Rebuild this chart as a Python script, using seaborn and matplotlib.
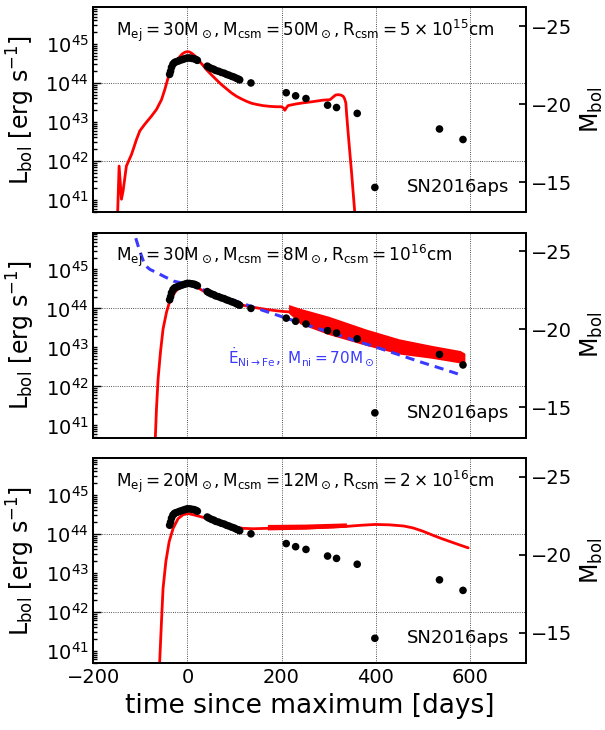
import numpy as np
import pandas as pd
import seaborn as sns
import matplotlib.pyplot as plt
from matplotlib.ticker import LogLocator, FuncFormatter, LogFormatterSciNotation

# SN2016aps bolometric light curve (days since max, log10 L)
obs_days = [-38, -36, -34, -31, -28, -25, -20, -16, -11, -6, -1, 4, 9, 14, 18, 21,
            42, 46, 51, 56, 60, 66, 72, 78, 83, 88, 94, 99, 104, 108, 111, 135,
            210, 230, 252, 298, 317, 361, 536, 586]
obs_logL = [44.22, 44.30, 44.40, 44.48, 44.52, 44.54, 44.56, 44.58, 44.60, 44.62, 44.64,
            44.64, 44.63, 44.62, 44.60, 44.58, 44.43, 44.40, 44.37, 44.35, 44.32, 44.30,
            44.27, 44.25, 44.22, 44.20, 44.17, 44.15, 44.12, 44.10, 44.08, 44.00,
            43.75, 43.67, 43.60, 43.43, 43.37, 43.22, 42.82, 42.55]

# model 1: Mej=30, Mcsm=50, Rcsm=5e15
m1_days = [-149, -145.5, -140.5, -137, -130, -119, -108.5, -101.5, -91, -76.6, -66, -55.3,
           -48.3, -41.3, -32, -22, -10.6, -5, -2, 2, 5, 9, 13.4, 19, 26, 33, 40.4, 50,
           61.7, 72, 83, 93, 104, 115, 125.5, 136, 146.8, 160, 175, 190, 200, 204, 207,
           210, 214, 230, 246, 266, 288.5, 302.8, 306, 309.8, 315, 320.4, 326, 331, 334,
           336.8, 338.5, 341.7, 349, 357]
m1_logL = [40.5, 41.87, 41.02, 41.23, 41.87, 42.17, 42.55, 42.77, 42.94, 43.15, 43.32, 43.57,
           43.83, 44.13, 44.42, 44.60, 44.75, 44.79, 44.80, 44.80, 44.79, 44.76, 44.72,
           44.65, 44.55, 44.45, 44.34, 44.22, 44.08, 43.96, 43.85, 43.75, 43.66, 43.59,
           43.53, 43.48, 43.45, 43.42, 43.40, 43.39, 43.39, 43.36, 43.30, 43.36, 43.42,
           43.46, 43.49, 43.52, 43.56, 43.57, 43.60, 43.64, 43.69, 43.70, 43.69, 43.66,
           43.60, 43.49, 43.20, 42.72, 41.70, 40.5]

# model 2: Mej=30, Mcsm=8, Rcsm=1e16
m2_days = [-69, -66, -62.5, -57.5, -52, -44.7, -37.7, -27, -16.4, -8, -2, 5, 12, 22, 33,
           47, 61.7, 75, 90, 104, 118, 135, 153.8, 170, 189, 205, 217]
m2_logL = [40.5, 41.43, 42.20, 42.88, 43.47, 43.90, 44.19, 44.41, 44.56, 44.60, 44.62,
           44.61, 44.59, 44.53, 44.45, 44.37, 44.28, 44.21, 44.15, 44.11, 44.08, 44.04,
           44.00, 43.97, 43.94, 43.92, 43.91]
m2_band_days = [215, 240, 300, 380, 450, 520, 580, 590]
m2_band_hi = [44.10, 44.00, 43.80, 43.47, 43.22, 43.05, 42.92, 42.85]
m2_band_lo = [43.88, 43.60, 43.33, 43.05, 42.83, 42.72, 42.60, 42.58]

# Ni -> Co -> Fe decay, M_ni = 70 Msun
ni_days = [-110, -105, -100, -95, -91, -85, -80, -73, -66, -50, -30, -15, 0, 50, 100,
           150, 200, 250, 300, 350, 400, 450, 500, 550, 575]
ni_logL = [45.80, 45.60, 45.42, 45.25, 45.13, 45.05, 45.00, 44.96, 44.92, 44.82, 44.70,
           44.66, 44.61, 44.41, 44.20, 43.99, 43.79, 43.59, 43.40, 43.20, 43.01, 42.81,
           42.61, 42.42, 42.32]

# model 3: Mej=20, Mcsm=12, Rcsm=2e16
m3_days = [-60, -55.3, -52, -46, -39, -30.6, -20, -9.4, 1.3, 15.5, 37, 61.7, 90, 118,
           140, 168, 210, 250, 300, 338, 370, 400, 430, 460, 480, 500, 522.6, 540, 558.7,
           580, 597]
m3_logL = [40.5, 41.76, 42.60, 43.29, 43.80, 44.14, 44.39, 44.49, 44.52, 44.48, 44.41,
           44.31, 44.20, 44.14, 44.13, 44.14, 44.15, 44.15, 44.17, 44.19, 44.22, 44.24,
           44.23, 44.20, 44.15, 44.07, 43.96, 43.88, 43.80, 43.71, 43.64]
m3_band_days = [170, 250, 338]
m3_band_hi = [44.24, 44.25, 44.28]
m3_band_lo = [44.10, 44.12, 44.17]

labels = [r"$M_{ej}=30M_\odot,M_{csm}=50M_\odot,R_{csm}=5\times10^{15}cm$",
          r"$M_{ej}=30M_\odot,M_{csm}=8M_\odot,R_{csm}=10^{16}cm$",
          r"$M_{ej}=20M_\odot,M_{csm}=12M_\odot,R_{csm}=2\times10^{16}cm$"]

L_LIM = (4.8e40, 8.7e45)
M_ZERO = 88.65


def to_mag(L):
    return M_ZERO - 2.5 * np.log10(L)


def decade_label(v, pos):
    e = np.log10(v)
    if abs(e - round(e)) < 1e-6:
        return r"$\mathdefault{10^{%d}}$" % round(e)
    return ""


sns.set_theme(style="white")
plt.rcParams.update({
    "font.family": ["DejaVu Sans"],
    "mathtext.fontset": "dejavusans",
    "mathtext.default": "regular",
    "xtick.direction": "in",
    "ytick.direction": "in",
    "axes.edgecolor": "black",
    "axes.linewidth": 1.3,
    "xtick.color": "black",
    "ytick.color": "black",
    "text.color": "black",
    "axes.labelcolor": "black",
})

obs = pd.DataFrame({"days": obs_days, "L": 10 ** np.array(obs_logL)})
models = [
    pd.DataFrame({"days": m1_days, "L": 10 ** np.array(m1_logL)}),
    pd.DataFrame({"days": m2_days, "L": 10 ** np.array(m2_logL)}),
    pd.DataFrame({"days": m3_days, "L": 10 ** np.array(m3_logL)}),
]
bands = [None,
         (m2_band_days, m2_band_lo, m2_band_hi),
         (m3_band_days, m3_band_lo, m3_band_hi)]

fig, axes = plt.subplots(3, 1, figsize=(6.05, 7.3), dpi=100, sharex=True)
fig.subplots_adjust(left=0.1545, right=0.8694, bottom=0.0914, top=0.990, hspace=0.099)

for i, ax in enumerate(axes):
    ax.set_yscale("log")
    sns.lineplot(data=models[i], x="days", y="L", ax=ax, color="red", lw=2.0,
                 sort=False, estimator=None, legend=False)
    if bands[i] is not None:
        bd, lo, hi = bands[i]
        ax.fill_between(bd, 10 ** np.array(lo), 10 ** np.array(hi), color="red", lw=0)
    if i == 1:
        ni = pd.DataFrame({"days": ni_days, "L": 10 ** np.array(ni_logL)})
        sns.lineplot(data=ni, x="days", y="L", ax=ax, color="#3a3aff", lw=2.2,
                     ls=(0, (3, 2)), sort=False, estimator=None, legend=False)
        ax.text(0.312, 0.395, r"$\dot{E}_{Ni\rightarrow Fe},\ M_{ni}=70M_\odot$",
                color="#3a3aff", fontsize=11, va="center", transform=ax.transAxes)
    sns.scatterplot(data=obs, x="days", y="L", ax=ax, color="black", s=30,
                    edgecolor="none", label="SN2016aps", zorder=5)

    ax.set_xlim(-200, 720)
    ax.set_ylim(*L_LIM)
    ax.set_xticks([-200, 0, 200, 400, 600])
    ax.yaxis.set_major_locator(LogLocator(base=100))
    ax.yaxis.set_major_formatter(LogFormatterSciNotation(base=10))
    ax.yaxis.set_minor_locator(LogLocator(base=10, subs=np.arange(1, 10), numticks=20))
    ax.yaxis.set_minor_formatter(FuncFormatter(decade_label))
    ax.grid(True, which="major", color="k", ls=":", lw=0.6)
    ax.tick_params(axis="both", which="both", labelsize=14, width=1.0)
    ax.tick_params(axis="y", which="major", length=6)
    ax.tick_params(axis="y", which="minor", length=3)
    ax.tick_params(axis="x", length=5)
    ax.set_ylabel(r"$L_{bol}\ [erg\ s^{-1}]$", fontsize=17, labelpad=6)
    ax.set_xlabel("")
    ax.text(0.052, 0.885, labels[i], fontsize=12.2, va="center", transform=ax.transAxes)
    ax.legend(loc="lower right", frameon=False, fontsize=13, handletextpad=0.8,
              borderaxespad=0.5)

    tw = ax.twinx()
    tw.set_ylim(to_mag(L_LIM[0]), to_mag(L_LIM[1]))
    tw.set_yticks([-25, -20, -15])
    tw.tick_params(axis="y", labelsize=14, length=5, direction="in")
    tw.set_ylabel(r"$M_{bol}$", fontsize=17, labelpad=5)
    tw.grid(False)

axes[-1].set_xlabel("time since maximum [days]", fontsize=19)

fig.savefig("out.png", dpi=100)
